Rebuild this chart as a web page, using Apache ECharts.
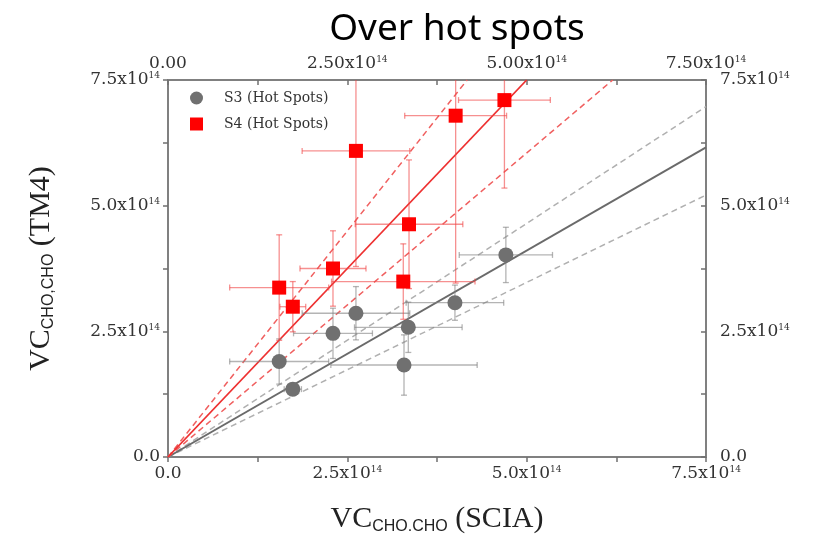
<!DOCTYPE html>
<html>
<head>
<meta charset="utf-8">
<script src="https://cdn.jsdelivr.net/npm/echarts@6/dist/echarts.min.js"></script>
<style>
  html, body { margin: 0; padding: 0; background: #fff; }
  #chart { width: 827px; height: 549px; }
</style>
</head>
<body>
<div id="chart"></div>
<script>
// values in units of 1e14
const tickVals = [0, 2.5, 5, 7.5];
const labelsOneDec = ['0.0', '2.5', '5.0', '7.5'];
const labelsTwoDec = ['0.00', '2.50', '5.00', '7.50'];

// S3 (grey circles)
const s3X = [1.55, 1.74, 2.30, 2.62, 3.35, 3.29, 4.00, 4.71];
const s3Y = [1.90, 1.35, 2.46, 2.86, 2.58, 1.83, 3.07, 4.02];
const s3Ex = [0.69, 0.12, 0.55, 0.75, 0.75, 1.02, 0.68, 0.65];
const s3Ey = [0.45, 0.10, 0.50, 0.53, 0.50, 0.60, 0.35, 0.55];

// S4 (red squares)
const s4X = [1.55, 1.74, 2.30, 3.28, 2.62, 3.36, 4.01, 4.69];
const s4Y = [3.37, 2.99, 3.75, 3.49, 6.09, 4.63, 6.79, 7.10];
const s4Ex = [0.69, 0.18, 0.46, 1.00, 0.75, 0.75, 0.71, 0.64];
const s4Ey = [1.05, 0.50, 0.75, 0.75, 2.30, 1.28, 3.33, 1.75];

// fit lines (end points)
const redFit = [[0, 0], [5.0, 7.5]];
const redUpper = [[0, 0], [4.17, 7.5]];
const redLower = [[0, 0], [6.2, 7.5]];
const greyFit = [[0, 0], [7.5, 6.16]];
const greyUpper = [[0, 0], [7.5, 6.97]];
const greyLower = [[0, 0], [7.5, 5.21]];

const AX_MIN = 0, AX_MAX = 7.5;
const RED = '#ff0000';
const GREY = '#707070';

function zip(xs, ys, exs, eys) {
  return xs.map((x, i) => [x, ys[i], exs ? exs[i] : 0, eys ? eys[i] : 0]);
}

function sciFormatter(labels) {
  return function (value) {
    const i = tickVals.findIndex((t) => Math.abs(t - value) < 1e-6);
    if (i < 0) return '';
    if (i === 0) return labels[0];
    return '{m|' + labels[i] + 'x10}{s|14}';
  };
}

function errorBars(color) {
  return function (params, api) {
    const x = api.value(0), y = api.value(1), ex = api.value(2), ey = api.value(3);
    const x0 = Math.max(x - ex, AX_MIN), x1 = Math.min(x + ex, AX_MAX);
    const y0 = Math.max(y - ey, AX_MIN), y1 = Math.min(y + ey, AX_MAX);
    const l = api.coord([x0, y]), r = api.coord([x1, y]);
    const t = api.coord([x, y1]), b = api.coord([x, y0]);
    const c = 3;
    const style = { stroke: color, lineWidth: 1.3 };
    const kids = [
      { type: 'line', shape: { x1: l[0], y1: l[1], x2: r[0], y2: r[1] }, style },
      { type: 'line', shape: { x1: t[0], y1: t[1], x2: b[0], y2: b[1] }, style },
    ];
    if (x - ex >= AX_MIN) kids.push({ type: 'line', shape: { x1: l[0], y1: l[1] - c, x2: l[0], y2: l[1] + c }, style });
    if (x + ex <= AX_MAX) kids.push({ type: 'line', shape: { x1: r[0], y1: r[1] - c, x2: r[0], y2: r[1] + c }, style });
    if (y + ey <= AX_MAX) kids.push({ type: 'line', shape: { x1: t[0] - c, y1: t[1], x2: t[0] + c, y2: t[1] }, style });
    if (y - ey >= AX_MIN) kids.push({ type: 'line', shape: { x1: b[0] - c, y1: b[1], x2: b[0] + c, y2: b[1] }, style });
    return { type: 'group', children: kids };
  };
}

const labelRich = {
  m: { fontFamily: 'DejaVu Serif', fontSize: 17, color: '#333' },
  s: { fontFamily: 'DejaVu Serif', fontSize: 9, color: '#333', verticalAlign: 'top' },
};

const nameRich = {
  v: { fontFamily: 'Liberation Serif', fontSize: 30, lineHeight: 30, color: '#222' },
  b: { fontFamily: 'Liberation Sans', fontSize: 16, lineHeight: 17, color: '#222', padding: [16, 0, 0, 0] },
};

function axisBase(position, labels, tickInside, margin) {
  return {
    type: 'value',
    position: position,
    min: AX_MIN,
    max: AX_MAX,
    interval: 2.5,
    splitLine: { show: false },
    axisLine: { show: true, onZero: false, lineStyle: { color: '#808080', width: 2 } },
    axisTick: { show: true, inside: tickInside, length: 5, lineStyle: { color: '#707070', width: 1.5 } },
    minorTick: { show: true, splitNumber: 2, length: 5, lineStyle: { color: '#707070', width: 1.5 } },
    axisLabel: {
      fontFamily: 'DejaVu Serif',
      fontSize: 17,
      color: '#333',
      margin: margin,
      formatter: sciFormatter(labels),
      rich: labelRich,
    },
  };
}

const chart = echarts.init(document.getElementById('chart'));

const option = {
  animation: false,
  backgroundColor: '#fff',
  title: {
    text: 'Over hot spots',
    left: 452,
    textAlign: 'center',
    top: 6,
    textStyle: { fontFamily: 'Noto Sans', fontSize: 37, fontWeight: 'normal', color: '#000' },
  },
  legend: {
    orient: 'vertical',
    left: 185,
    top: 86,
    itemWidth: 13,
    itemHeight: 13,
    itemGap: 12,
    textStyle: { fontFamily: 'DejaVu Serif', fontSize: 14, color: '#333', padding: [0, 0, 0, 16] },
    data: [
      { name: 'S3 (Hot Spots)', icon: 'circle' },
      { name: 'S4 (Hot Spots)', icon: 'rect' },
    ],
  },
  grid: { left: 168, right: 121, top: 80, bottom: 92 },
  xAxis: [
    Object.assign(axisBase('bottom', labelsOneDec, false, 8), {
      name: '{v|VC}{b|CHO.CHO}{v| (SCIA)}',
      nameLocation: 'middle',
      nameGap: 47,
      nameTextStyle: { rich: nameRich },
    }),
    axisBase('top', labelsTwoDec, true, 8),
  ],
  yAxis: [
    Object.assign(axisBase('left', labelsOneDec, false, 8), {
      name: '{v|VC}{b|CHO,CHO}{v| (TM4)}',
      nameLocation: 'middle',
      nameGap: 112,
      nameTextStyle: { rich: nameRich },
    }),
    axisBase('right', labelsOneDec, true, 14),
  ],
  series: [
    { type: 'line', data: greyUpper, showSymbol: false, silent: true, lineStyle: { color: '#b0b0b0', width: 1.5, type: [6, 4] }, z: 1 },
    { type: 'line', data: greyLower, showSymbol: false, silent: true, lineStyle: { color: '#b0b0b0', width: 1.5, type: [6, 4] }, z: 1 },
    { type: 'line', data: greyFit, showSymbol: false, silent: true, lineStyle: { color: '#6a6a6a', width: 2 }, z: 1 },
    { type: 'line', data: redUpper, showSymbol: false, silent: true, lineStyle: { color: '#f06060', width: 1.5, type: [6, 4] }, z: 1 },
    { type: 'line', data: redLower, showSymbol: false, silent: true, lineStyle: { color: '#f06060', width: 1.5, type: [6, 4] }, z: 1 },
    { type: 'line', data: redFit, showSymbol: false, silent: true, lineStyle: { color: '#ee3030', width: 1.8 }, z: 1 },
    {
      type: 'custom',
      renderItem: errorBars('rgba(130,130,130,0.6)'),
      data: zip(s3X, s3Y, s3Ex, s3Ey),
      encode: { x: 0, y: 1 },
      z: 2,
    },
    {
      type: 'custom',
      renderItem: errorBars('rgba(240,70,70,0.6)'),
      data: zip(s4X, s4Y, s4Ex, s4Ey),
      encode: { x: 0, y: 1 },
      z: 2,
    },
    {
      name: 'S3 (Hot Spots)',
      type: 'scatter',
      symbol: 'circle',
      symbolSize: 15,
      itemStyle: { color: GREY, opacity: 1 },
      data: zip(s3X, s3Y),
      z: 3,
    },
    {
      name: 'S4 (Hot Spots)',
      type: 'scatter',
      symbol: 'rect',
      symbolSize: 14,
      itemStyle: { color: RED, opacity: 1 },
      data: zip(s4X, s4Y),
      z: 3,
    },
  ],
};

chart.setOption(option);
</script>
</body>
</html>
